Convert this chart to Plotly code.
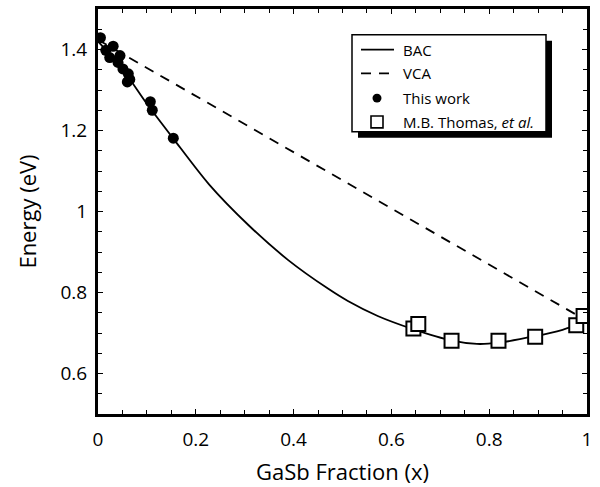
import plotly.graph_objects as go

# ---- data ----
this_work_x = [0.005, 0.016, 0.031, 0.024, 0.045, 0.041, 0.051, 0.062, 0.065, 0.060, 0.107, 0.111, 0.154]
this_work_y = [1.429, 1.398, 1.408, 1.380, 1.385, 1.368, 1.352, 1.340, 1.326, 1.320, 1.271, 1.250, 1.181]

thomas_x = [0.645, 0.655, 0.723, 0.819, 0.894, 0.978, 0.993]
thomas_y = [0.711, 0.722, 0.681, 0.681, 0.691, 0.719, 0.742]

bac_x = [0.0, 0.05, 0.10, 0.154, 0.227, 0.308, 0.389, 0.471, 0.511, 0.572, 0.643, 0.724, 0.775, 0.819, 0.893, 0.95, 1.0]
bac_y = [1.420, 1.352, 1.266, 1.180, 1.067, 0.966, 0.880, 0.809, 0.779, 0.742, 0.710, 0.681, 0.673, 0.676, 0.692, 0.708, 0.728]

vca_x = [0.0, 1.0]
vca_y = [1.424, 0.730]

x_tickvals = [0, 0.2, 0.4, 0.6, 0.8, 1]
x_ticktext = ["0", "0.2", "0.4", "0.6", "0.8", "1"]
y_tickvals = [0.6, 0.8, 1.0, 1.2, 1.4]
y_ticktext = ["0.6", "0.8", "1", "1.2", "1.4"]

legend_labels = ["BAC", "VCA", "This work", "M.B. Thomas, <i>et al.</i>"]

FONT = "Open Sans"
W, H = 600, 487
L, R, T, B = 98, 13, 6, 72

fig = go.Figure()
fig.add_trace(go.Scatter(x=bac_x, y=bac_y, mode="lines", line=dict(color="black", width=1.8, shape="spline", smoothing=0.8), name="BAC"))
fig.add_trace(go.Scatter(x=vca_x, y=vca_y, mode="lines", line=dict(color="black", width=1.8, dash="10px,8px"), name="VCA"))
fig.add_trace(go.Scatter(x=this_work_x, y=this_work_y, mode="markers", marker=dict(symbol="circle", size=11, color="black"), name="This work"))
fig.add_trace(go.Scatter(x=thomas_x, y=thomas_y, mode="markers", marker=dict(symbol="square", size=14, color="white", line=dict(color="black", width=2)), name="M.B. Thomas, et al."))

def px(xp):
    return (xp - L) / (W - L - R)

def py(yp):
    return (H - B - yp) / (H - T - B)

shapes = []
annotations = []
# legend shadow + box
bx0, bx1, by0, by1 = 352, 546, 32, 130
shapes.append(dict(type="rect", xref="paper", yref="paper", x0=px(bx0 + 6), x1=px(bx1 + 6), y0=py(by1 + 6), y1=py(by0 + 6), fillcolor="black", line=dict(width=0), layer="above"))
shapes.append(dict(type="rect", xref="paper", yref="paper", x0=px(bx0), x1=px(bx1), y0=py(by1), y1=py(by0), fillcolor="white", line=dict(color="black", width=1.5), layer="above"))
rows = [47, 71, 96, 120]
sx0, sx1, sc = 361, 394, 377
shapes.append(dict(type="line", xref="paper", yref="paper", x0=px(sx0), x1=px(sx1), y0=py(rows[0]), y1=py(rows[0]), line=dict(color="black", width=1.8), layer="above"))
shapes.append(dict(type="line", xref="paper", yref="paper", x0=px(sx0), x1=px(sx1), y0=py(rows[1]), y1=py(rows[1]), line=dict(color="black", width=1.8, dash="10px,8px"), layer="above"))
r = 4.5
shapes.append(dict(type="circle", xref="paper", yref="paper", x0=px(sc - r), x1=px(sc + r), y0=py(rows[2] + r), y1=py(rows[2] - r), fillcolor="black", line=dict(color="black", width=0), layer="above"))
s = 6
shapes.append(dict(type="rect", xref="paper", yref="paper", x0=px(sc - s), x1=px(sc + s), y0=py(rows[3] + s), y1=py(rows[3] - s), fillcolor="white", line=dict(color="black", width=1.6), layer="above"))
for lab, ry in zip(legend_labels, rows):
    annotations.append(dict(x=px(401), y=py(ry), xref="paper", yref="paper", text=lab, showarrow=False, xanchor="left", yanchor="middle", font=dict(family=FONT, size=15, color="black")))

axis_common = dict(showline=True, linecolor="black", linewidth=3, mirror="ticks", ticks="inside", ticklen=5, tickwidth=1.2, tickcolor="black", showgrid=False, zeroline=False, tickfont=dict(family=FONT, size=19, color="black"))

fig.update_layout(
    width=W, height=H,
    margin=dict(l=L, r=R, t=T, b=B),
    paper_bgcolor="white", plot_bgcolor="white",
    showlegend=False,
    shapes=shapes, annotations=annotations,
    xaxis=dict(range=[0, 1], tickvals=x_tickvals, ticktext=x_ticktext,
               minor=dict(dtick=0.05, tick0=0, ticks="inside", ticklen=4, tickcolor="black", tickwidth=1.2),
               title=dict(text="GaSb Fraction (x)", font=dict(family=FONT, size=22, color="black"), standoff=14),
               ticklabelstandoff=6, **axis_common),
    yaxis=dict(range=[0.5, 1.5], tickvals=y_tickvals, ticktext=y_ticktext,
               minor=dict(dtick=0.05, tick0=0, ticks="inside", ticklen=4, tickcolor="black", tickwidth=1.2),
               title=dict(text="Energy (eV)", font=dict(family=FONT, size=22, color="black"), standoff=18),
               ticklabelstandoff=4, **axis_common),
)

fig.write_html("out.html")
